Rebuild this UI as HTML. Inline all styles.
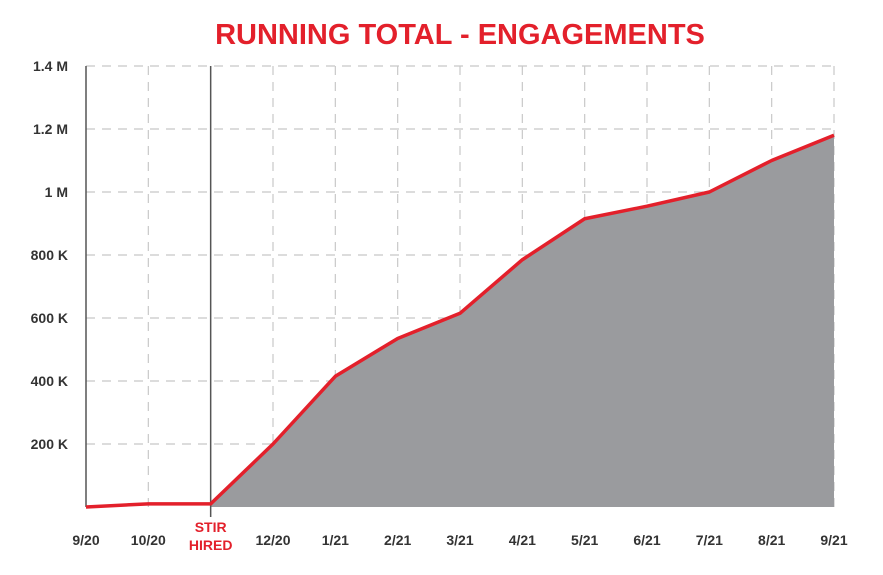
<!DOCTYPE html>
<html><head><meta charset="utf-8"><style>
body{margin:0;background:#fff;width:883px;height:570px;overflow:hidden;font-family:"Liberation Sans",sans-serif}
</style></head><body>
<svg width="883" height="570">
<text x="460" y="44" text-anchor="middle" font-size="29" font-weight="bold" fill="#e3202b">RUNNING TOTAL - ENGAGEMENTS</text>
<g id="grid"></g><g id="area"></g><g id="axes"></g><g id="labels"></g>
</svg>
<script>
const categories=["9/20","10/20","STIR","12/20","1/21","2/21","3/21","4/21","5/21","6/21","7/21","8/21","9/21"];
const values=[0,10,10,200,415,535,615,785,915,955,1000,1100,1180];
const yTicks=[200,400,600,800,1000,1200,1400];
const yTickLabels=["200 K","400 K","600 K","800 K","1 M","1.2 M","1.4 M"];
const ns="http://www.w3.org/2000/svg";
const x0=86,x1=834,yb=507,pxPerK=0.315;
const X=i=>x0+i*(x1-x0)/(categories.length-1);
const Y=v=>yb-v*pxPerK;
function mk(t,a,p){const e=document.createElementNS(ns,t);for(const k in a)e.setAttribute(k,a[k]);p.appendChild(e);return e;}
const g=document.getElementById('grid');
yTicks.forEach((v,i)=>{
 const l=mk('line',{x1:x0,x2:x1,y1:Y(v),y2:Y(v),stroke:'#c8c8c8','stroke-width':1.2,'stroke-dasharray':'9 7'},g);
 
 
 const t=mk('text',{x:68,y:Y(v)+5,'text-anchor':'end','font-size':14,'font-weight':'bold',fill:'#333'},document.getElementById('labels'));
 t.textContent=yTickLabels[i];
 
 
});
categories.forEach((c,i)=>{
 if(i!==0&&i!==2){const l=mk('line',{x1:X(i),x2:X(i),y1:Y(1400),y2:yb,stroke:'#c8c8c8','stroke-width':1.2,'stroke-dasharray':'9 7'},g);
 
 }
 const lab=document.getElementById('labels');
 if(c==="STIR"){
  const t=mk('text',{x:X(i),y:532,'text-anchor':'middle','font-size':14,'font-weight':'bold',fill:'#e3202b'},lab);t.textContent="STIR";
  
  
  const t2=mk('text',{x:X(i),y:550,'text-anchor':'middle','font-size':14,'font-weight':'bold',fill:'#e3202b'},lab);t2.textContent="HIRED";
  
  
 } else {
  const t=mk('text',{x:X(i),y:545,'text-anchor':'middle','font-size':14,'font-weight':'bold',fill:'#333'},lab);t.textContent=c;
  
  
 }
});
let d=`M${X(2)},${yb}`;for(let i=2;i<values.length;i++)d+=` L${X(i)},${Y(values[i])}`;d+=` L${X(values.length-1)},${yb} Z`;
const a=mk('path',{d,fill:'#9a9b9e'},document.getElementById('area'));


const ax=document.getElementById('axes');
const v1=mk('line',{x1:x0,x2:x0,y1:Y(1400),y2:yb,stroke:'#555','stroke-width':1.5},ax);


const v2=mk('line',{x1:X(2),x2:X(2),y1:Y(1400),y2:517,stroke:'#555','stroke-width':1.5},ax);


const pts=values.map((v,i)=>X(i)+','+Y(v)).join(' ');
const pl=mk('polyline',{points:pts,fill:'none',stroke:'#e3202b','stroke-width':3.5,'stroke-linejoin':'round'},ax);


</script>
</body></html>
